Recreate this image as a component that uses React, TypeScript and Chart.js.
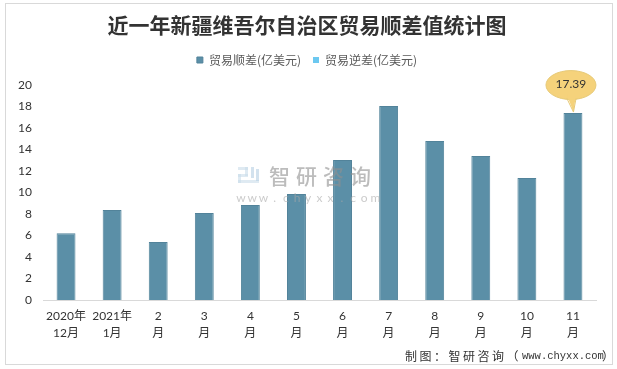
import React, { useEffect, useRef } from "react";
import { Chart, registerables } from "chart.js";

Chart.register(...registerables);

const titleText = "近一年新疆维吾尔自治区贸易顺差值统计图";
const categories: string[][] = [
  ["2020年", "12月"],
  ["2021年", "1月"],
  ["2", "月"],
  ["3", "月"],
  ["4", "月"],
  ["5", "月"],
  ["6", "月"],
  ["7", "月"],
  ["8", "月"],
  ["9", "月"],
  ["10", "月"],
  ["11", "月"],
];
const seriesNames = ["贸易顺差(亿美元)", "贸易逆差(亿美元)"];
const surplus = [6.22, 8.37, 5.4, 8.09, 8.84, 9.86, 13.02, 18.05, 14.8, 13.4, 11.35, 17.39];
const deficit: (number | null)[] = [null, null, null, null, null, null, null, null, null, null, null, null];
const yMin = 0;
const yMax = 20;
const yStep = 2;
const calloutIndex = 11;
const calloutLabel = "17.39";
const watermarkName = "智研咨询";
const watermarkUrl = "www.chyxx.com";
const sourceHead = "制图：智研咨询（";
const sourceUrl = "www.chyxx.com";
const sourceTail = "）";

const LATIN = 'Lato, "Noto Sans CJK SC", sans-serif';
const CJK = '"Noto Sans CJK SC", sans-serif';
const MONO = '"Liberation Mono", "DejaVu Sans Mono", monospace';

const extrasPlugin = {
  id: "extras",
  afterDatasetsDraw(chart: any) {
    const ctx = chart.ctx as CanvasRenderingContext2D;
    // watermark
    ctx.save();
    ctx.globalAlpha = 0.6;
    const lx = 238, ly = 167;
    ctx.fillStyle = "#c9dcea";
    ctx.fillRect(lx, ly, 10, 3);
    ctx.fillRect(lx + 7, ly, 3, 9);
    ctx.fillRect(lx, ly + 7, 10, 3);
    ctx.fillRect(lx, ly + 7, 3, 9);
    ctx.fillRect(lx, ly + 13, 21, 3);
    ctx.fillStyle = "#b5cfe3";
    ctx.fillRect(lx + 13, ly, 3, 11);
    ctx.fillRect(lx + 18, ly + 2, 3, 12);
    ctx.fillStyle = "#8f8f8f";
    ctx.font = `500 21px ${CJK}`;
    ctx.textAlign = "left";
    ctx.textBaseline = "middle";
    (ctx as any).letterSpacing = "6px";
    ctx.fillText(watermarkName, 269, 176);
    (ctx as any).letterSpacing = "0px";
    ctx.font = `12px ${LATIN}`;
    ctx.fillStyle = "#a8a8a8";
    ctx.textAlign = "center";
    watermarkUrl.split("").forEach((c, i) => {
      ctx.fillText(c, 241 + i * 11.2, 198);
    });
    ctx.restore();

    // callout
    const meta = chart.getDatasetMeta(0);
    const el = meta.data[calloutIndex];
    if (el) {
      const x = el.x;
      const y = el.y;
      const cx = x - 2;
      const cy = y - 28;
      ctx.save();
      ctx.fillStyle = "#f5d27b";
      ctx.strokeStyle = "#e6c977";
      ctx.lineWidth = 1;
      ctx.beginPath();
      ctx.ellipse(cx, cy, 25, 14.5, 0, 0, Math.PI * 2);
      ctx.fill();
      ctx.stroke();
      ctx.beginPath();
      ctx.moveTo(x - 6, cy + 10);
      ctx.lineTo(x + 0.5, y - 1);
      ctx.lineTo(x + 3, cy + 10);
      ctx.closePath();
      ctx.fill();
      ctx.beginPath();
      ctx.moveTo(x - 6, cy + 13.5);
      ctx.lineTo(x + 0.5, y - 1);
      ctx.lineTo(x + 3, cy + 13.8);
      ctx.stroke();
      ctx.fillStyle = "#f5d27b";
      ctx.fillRect(x - 5, cy + 8, 7, 6);
      ctx.fillStyle = "#333333";
      ctx.font = `12px ${LATIN}`;
      ctx.textAlign = "center";
      ctx.textBaseline = "middle";
      ctx.fillText(calloutLabel, cx, cy - 1);
      ctx.restore();
    }
  },
  afterDraw(chart: any) {
    const ctx = chart.ctx as CanvasRenderingContext2D;
    ctx.save();
    ctx.fillStyle = "#333333";
    ctx.textAlign = "left";
    ctx.textBaseline = "middle";
    const y = 356;
    ctx.font = `12px ${CJK}`;
    (ctx as any).letterSpacing = "2.5px";
    ctx.fillText(sourceHead, 405, y);
    (ctx as any).letterSpacing = "0px";
    ctx.font = `10.5px ${MONO}`;
    ctx.fillText(sourceUrl, 522, y);
    ctx.font = `12px ${CJK}`;
    ctx.fillText(sourceTail, 602, y);
    ctx.restore();
  },
};

export default function App() {
  const ref = useRef<HTMLCanvasElement | null>(null);
  useEffect(() => {
    if (!ref.current) return;
    const chart = new Chart(ref.current, {
      type: "bar",
      data: {
        labels: categories,
        datasets: [
          {
            label: seriesNames[0],
            data: surplus,
            backgroundColor: "#5b8fa7",
            borderColor: "#52839a",
            borderWidth: 1,
            grouped: false,
            barPercentage: 0.41,
            categoryPercentage: 1,
          } as any,
          {
            label: seriesNames[1],
            data: deficit,
            backgroundColor: "#6cc8f0",
            borderColor: "#6cc8f0",
            borderWidth: 0,
            grouped: false,
            barPercentage: 0.41,
            categoryPercentage: 1,
          } as any,
        ],
      },
      options: {
        responsive: false,
        animation: false,
        devicePixelRatio: 1,
        layout: { padding: { top: 0, left: 18, right: 21, bottom: 25 } },
        plugins: {
          title: {
            display: true,
            text: titleText,
            color: "#333333",
            font: { family: CJK, size: 21, weight: "bold", lineHeight: 1.2 },
            padding: { top: 12, bottom: 4.8 },
          },
          subtitle: {
            display: true,
            text: " ",
            weight: 500,
            font: { size: 1, lineHeight: 1 },
            padding: { top: 0, bottom: 8 },
          } as any,
          legend: {
            display: true,
            position: "top",
            labels: {
              color: "#595959",
              font: { family: CJK, size: 12 },
              boxWidth: 6,
              boxHeight: 6,
              padding: 12,
            },
          },
          tooltip: { enabled: false },
        },
        scales: {
          x: {
            grid: { display: true, drawOnChartArea: false, drawTicks: false },
            border: { display: true, color: "#d9d9d9", width: 1 },
            ticks: {
              color: "#333333",
              font: { family: LATIN, size: 12, lineHeight: 1.4 },
              padding: 8,
              maxRotation: 0,
              autoSkip: false,
            },
            afterFit(scale: any) {
              scale.height = 44;
            },
          },
          y: {
            min: yMin,
            max: yMax,
            grid: { display: false, drawTicks: false },
            border: { display: false },
            ticks: {
              stepSize: yStep,
              color: "#333333",
              font: { family: LATIN, size: 12 },
              padding: 11,
            },
            afterFit(scale: any) {
              scale.width = 25;
            },
          },
        },
      },
      plugins: [extrasPlugin],
    });
    return () => chart.destroy();
  }, []);
  return (
    <div style={{ position: "fixed", left: 0, top: 0, width: 617, height: 369, background: "#ffffff" }}>
      <div
        style={{
          position: "absolute",
          left: 5,
          top: 3,
          width: 606,
          height: 360,
          border: "1px solid #d9d9d9",
        }}
      />
      <canvas ref={ref} width={617} height={369} style={{ position: "absolute", left: 0, top: 0 }} />
    </div>
  );
}
